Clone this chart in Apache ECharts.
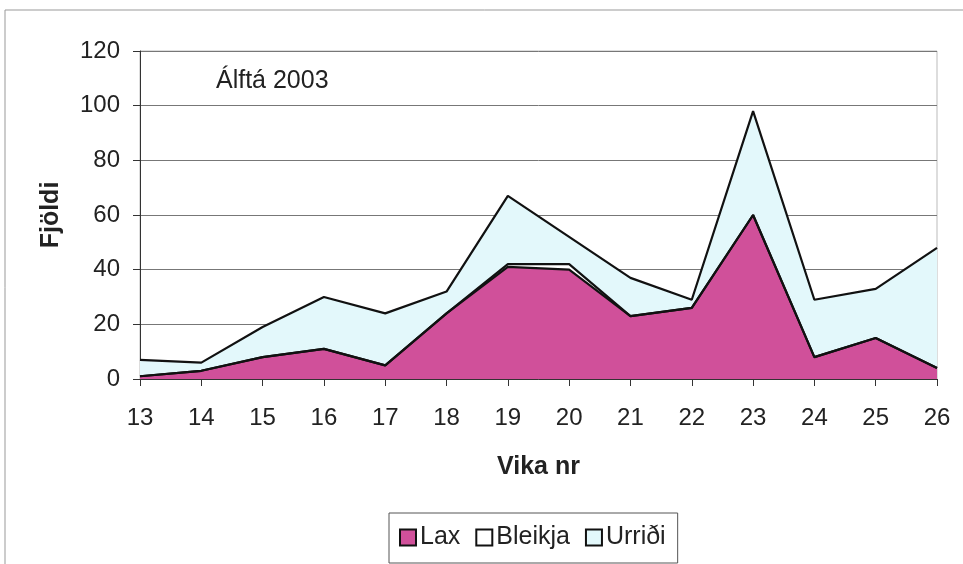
<!DOCTYPE html>
<html>
<head>
<meta charset="utf-8">
<script src="https://cdn.jsdelivr.net/npm/echarts@6/dist/echarts.min.js"></script>
<style>
  html, body { margin: 0; padding: 0; background: #fff; }
  #chart { width: 963px; height: 564px; }
</style>
</head>
<body>
<div id="chart"></div>
<script>
// vikur
var weeks = ["13", "14", "15", "16", "17", "18", "19", "20", "21", "22", "23", "24", "25", "26"];
// fjöldi eftir tegund (staflað)
var lax     = [1, 3, 8, 11, 5, 24, 41, 40, 23, 26, 60, 8, 15, 4];
var bleikja = [0, 0, 0, 0, 0, 0, 1, 2, 0, 0, 0, 0, 0, 0];
var urridi  = [6, 3, 11, 19, 19, 8, 25, 10, 14, 3, 38, 21, 18, 44];
var yTicks = [0, 20, 40, 60, 80, 100, 120];

var font = "Liberation Sans, Arial, sans-serif";
var chart = echarts.init(document.getElementById("chart"));

function areaSeries(name, data, fill) {
  return {
    name: name,
    type: "line",
    stack: "total",
    data: data,
    symbol: "none",
    animation: false,
    lineStyle: { color: "#111", width: 2.2 },
    areaStyle: { color: fill, opacity: 1 },
    itemStyle: { color: fill, borderColor: "#111", borderWidth: 1 }
  };
}

chart.setOption({
  backgroundColor: "#fff",
  animation: false,
  title: {
    text: "Álftá 2003",
    left: 211,
    top: 64,
    textStyle: { fontFamily: font, fontSize: 25, fontWeight: "normal", color: "#222" }
  },
  graphic: [{
    type: "rect",
    shape: { x: 5, y: 10, width: 1000, height: 600 },
    style: { fill: "none", stroke: "#999", lineWidth: 1 },
    silent: true
  }],
  legend: {
    left: 389,
    top: 513,
    itemWidth: 16,
    itemHeight: 16,
    itemGap: 15,
    padding: [12, 12, 13, 10],
    borderColor: "#555",
    borderWidth: 1,
    icon: "rect",
    data: ["Lax", "Bleikja", "Urriði"],
    textStyle: { fontFamily: font, fontSize: 25, color: "#222", padding: [0, 0, 0, -1] }
  },
  grid: {
    left: 140,
    top: 51,
    right: 26,
    bottom: 185,
    show: true,
    borderColor: "#bbb",
    borderWidth: 1
  },
  xAxis: {
    type: "category",
    data: weeks,
    boundaryGap: false,
    name: "Vika nr",
    nameLocation: "middle",
    nameGap: 76,
    nameTextStyle: { fontFamily: font, fontSize: 25, fontWeight: "bold", color: "#222" },
    axisLine: { lineStyle: { color: "#333", width: 1 } },
    axisTick: { show: true, length: 7, lineStyle: { color: "#333" } },
    axisLabel: { fontFamily: font, fontSize: 24, color: "#222", margin: 27 },
    splitLine: { show: false }
  },
  yAxis: {
    type: "value",
    min: yTicks[0],
    max: yTicks[yTicks.length - 1],
    interval: 20,
    name: "Fjöldi",
    nameLocation: "middle",
    nameGap: 76,
    nameTextStyle: { fontFamily: font, fontSize: 25, fontWeight: "bold", color: "#222" },
    axisLine: { show: true, lineStyle: { color: "#333", width: 1 } },
    axisTick: { show: true, length: 7, lineStyle: { color: "#333" } },
    axisLabel: { fontFamily: font, fontSize: 24, color: "#222", margin: 20 },
    splitLine: { show: true, lineStyle: { color: "#777", width: 1 } }
  },
  series: [
    areaSeries("Lax", lax, "#d0509a"),
    areaSeries("Bleikja", bleikja, "#ffffff"),
    areaSeries("Urriði", urridi, "#e3f8fb")
  ]
});
</script>
</body>
</html>
